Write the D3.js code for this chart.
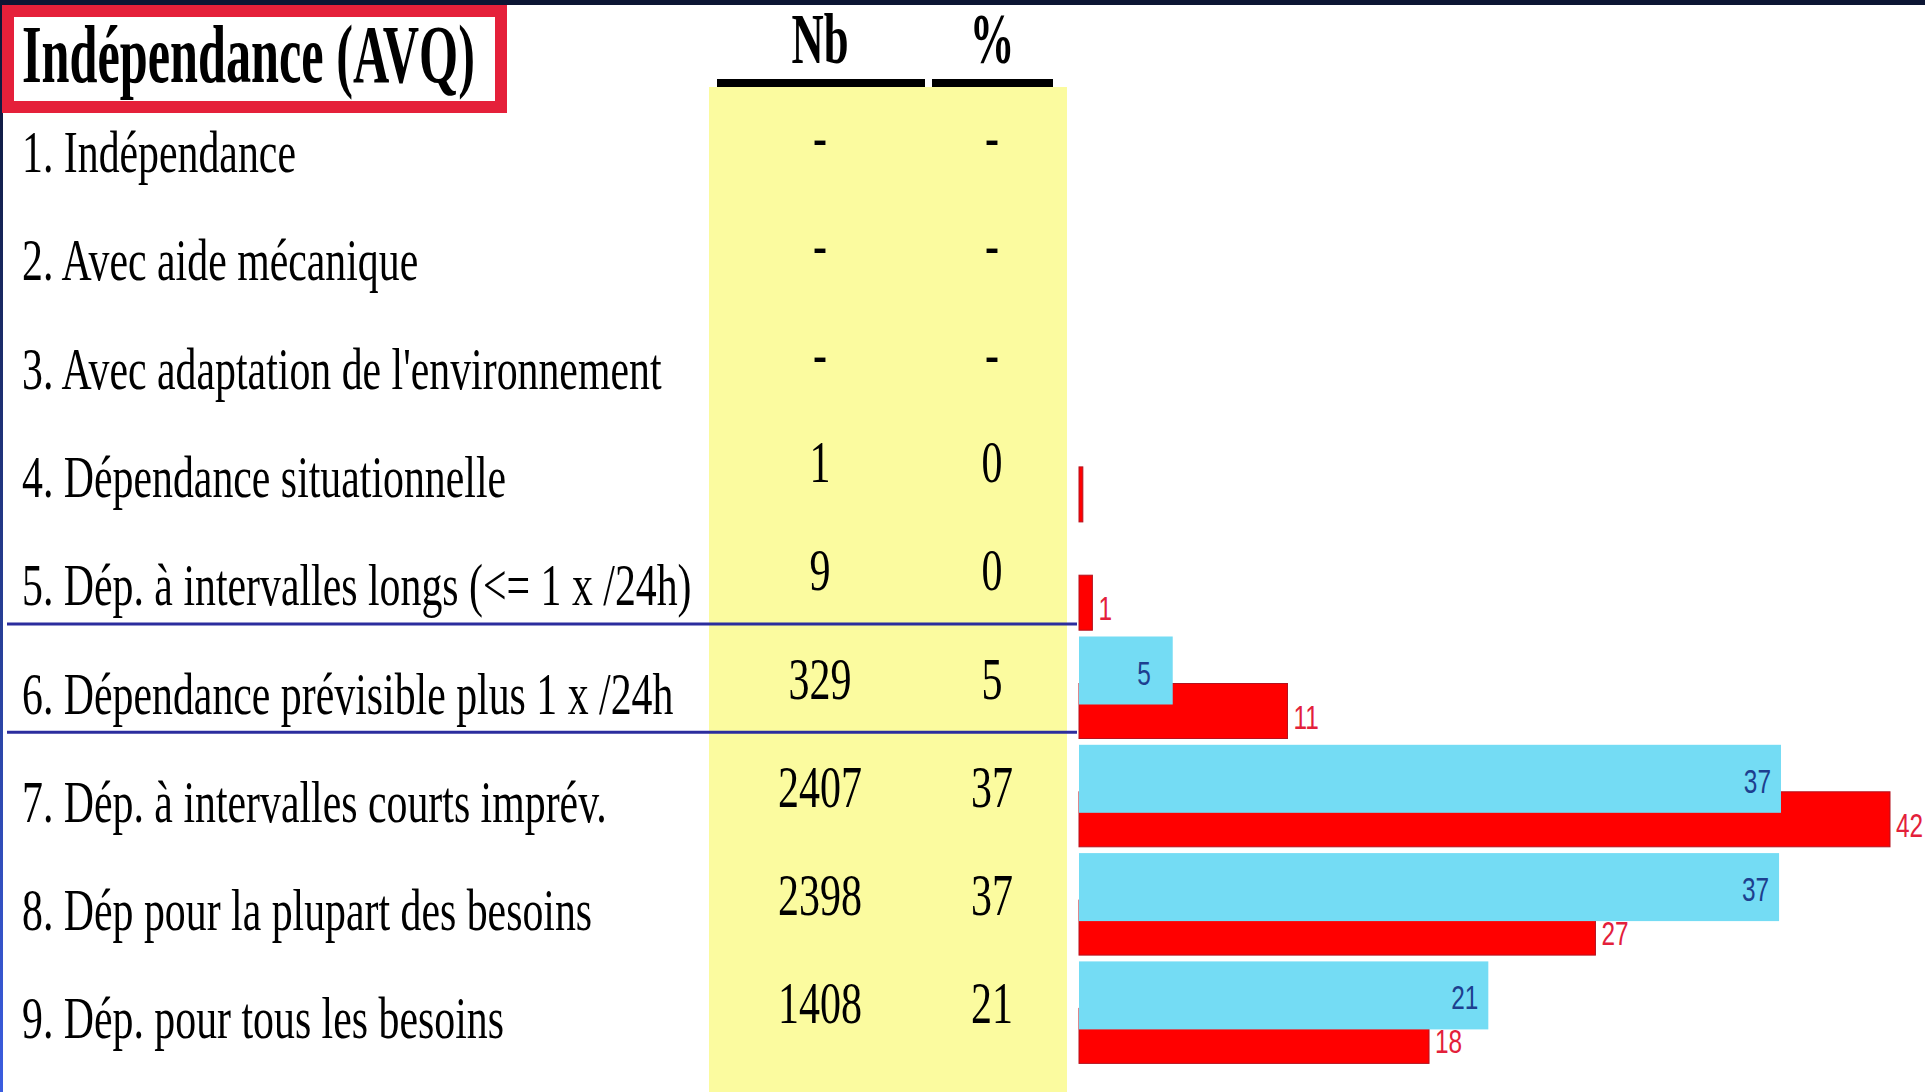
<!DOCTYPE html>
<html>
<head>
<meta charset="utf-8">
<script src="https://cdn.jsdelivr.net/npm/d3@7"></script>
<style>
  html, body { margin: 0; padding: 0; background: #ffffff; overflow: hidden; }
  svg { display: block; }
</style>
</head>
<body>
<script>
// ---------------- DATA ----------------
const title = "Indépendance (AVQ)";
const columnHeaders = ["Nb", "%"];
const categories = [
  "1. Indépendance",
  "2. Avec aide mécanique",
  "3. Avec adaptation de l'environnement",
  "4. Dépendance situationnelle",
  "5. Dép. à intervalles longs (<= 1 x /24h)",
  "6. Dépendance prévisible plus 1 x /24h",
  "7. Dép. à intervalles courts imprév.",
  "8. Dép pour la plupart des besoins",
  "9. Dép. pour tous les besoins"
];
const nbValues  = ["-", "-", "-", "1", "9", "329", "2407", "2398", "1408"];
const pctValues = ["-", "-", "-", "0", "0", "5", "37", "37", "21"];
// bar series (percent)
const blueValues = [0, 0, 0, 0, 0, 4.9, 36.7, 36.6, 21.4];
const redValues  = [0, 0, 0, 0.2, 0.7, 10.9, 42.4, 27.0, 18.3];
// rows that get a separator line above them
const separatorRows = [categories[5], categories[6]];

// ---------------- LAYOUT ----------------
const W = 1925, H = 1092;
const serif = "'Liberation Serif', 'Times New Roman', serif";
const sans = "'Liberation Sans', Arial, sans-serif";
const C = {
  navy: "#0c1533",
  frame: "#e5203a",
  yellow: "#fbfb9f",
  blue: "#74dcf4",
  red: "#ff0000",
  redStroke: "#b3121f",
  blueText: "#1d3f8f",
  redText: "#e3203a",
  sep: "#2b2d9e"
};

const rows = categories.map((c, i) => ({
  cat: c, nb: nbValues[i], pct: pctValues[i], blue: blueValues[i], red: redValues[i]
}));

const svg = d3.select("body").append("svg").attr("width", W).attr("height", H);

const defs = svg.append("defs");
const lg = defs.append("linearGradient").attr("id", "leftEdge")
  .attr("x1", 0).attr("y1", 0).attr("x2", 0).attr("y2", 1);
lg.append("stop").attr("offset", "0%").attr("stop-color", "#0c1533");
lg.append("stop").attr("offset", "100%").attr("stop-color", "#3b5de0");

// Scales
const y = d3.scaleBand().domain(categories).range([95, 95 + 9 * 108.3]).padding(0);
const x = d3.scaleLinear().domain([0, 42.4]).range([1079, 1890]);
const colX = d3.scaleOrdinal().domain(columnHeaders).range([820, 992]);
const colSpan = d3.scaleOrdinal().domain(columnHeaders).range([[717, 925], [932, 1053]]);

const blueH = 68, redOff = 47, redH = 55;

// yellow column background
svg.append("rect").attr("x", 709).attr("y", 87).attr("width", 358).attr("height", H - 87)
  .attr("fill", C.yellow);

// top band and left edge
svg.append("rect").attr("x", 0).attr("y", 0).attr("width", W).attr("height", 5).attr("fill", C.navy);
svg.append("rect").attr("x", 0).attr("y", 0).attr("width", 3).attr("height", H).attr("fill", "url(#leftEdge)");

// helper for condensed text
function ctext(sel, tx, ty, sx, anchor) {
  return sel.append("text")
    .attr("transform", `translate(${tx},${ty}) scale(${sx},1)`)
    .attr("x", 0).attr("y", 0)
    .attr("text-anchor", anchor || "start");
}

// title frame
svg.append("rect").attr("x", 8).attr("y", 11).attr("width", 493).attr("height", 96)
  .attr("fill", "#ffffff").attr("stroke", C.frame).attr("stroke-width", 12);
ctext(svg, 22, 82, 0.613).text(title)
  .attr("font-family", serif).attr("font-weight", "bold").attr("font-size", 82).attr("fill", "#000");

// column headers
const hdr = svg.append("g");
columnHeaders.forEach(h => {
  ctext(hdr, colX(h), 63, 0.62, "middle").text(h)
    .attr("font-family", serif).attr("font-weight", "bold").attr("font-size", 72).attr("fill", "#000");
  const s = colSpan(h);
  hdr.append("rect").attr("x", s[0]).attr("y", 79).attr("width", s[1] - s[0]).attr("height", 8).attr("fill", "#000");
});

// row labels
const lab = svg.append("g");
rows.forEach(r => {
  ctext(lab, 22, y(r.cat) + 77, 0.697).text(r.cat)
    .attr("font-family", serif).attr("font-size", 60).attr("fill", "#000");
  ctext(lab, colX("Nb"), y(r.cat) + 62, 0.7, "middle").text(r.nb)
    .attr("font-family", serif).attr("font-size", 60).attr("fill", "#000");
  ctext(lab, colX("%"), y(r.cat) + 62, 0.7, "middle").text(r.pct)
    .attr("font-family", serif).attr("font-size", 60).attr("fill", "#000");
});

// separator lines
svg.append("g").selectAll("line").data(separatorRows).join("line")
  .attr("x1", 7).attr("x2", 1077)
  .attr("y1", d => y(d) - 12.5).attr("y2", d => y(d) - 12.5)
  .attr("stroke", C.sep).attr("stroke-width", 3);

// red bars
const redRows = rows.filter(r => r.red > 0);
svg.append("g").selectAll("rect").data(redRows).join("rect")
  .attr("x", x(0)).attr("y", d => y(d.cat) + redOff)
  .attr("width", d => x(d.red) - x(0)).attr("height", redH)
  .attr("fill", C.red).attr("stroke", C.redStroke).attr("stroke-width", 1);

// red labels
const rl = svg.append("g");
redRows.filter(r => r.red >= 0.5).forEach(r => {
  ctext(rl, x(r.red) + 6, y(r.cat) + redOff + 45, 0.74).text(d3.format(".0f")(r.red))
    .attr("font-family", sans).attr("font-size", 33).attr("fill", C.redText);
});

// blue bars (drawn over red)
const blueRows = rows.filter(r => r.blue > 0);
svg.append("g").selectAll("rect").data(blueRows).join("rect")
  .attr("x", x(0)).attr("y", d => y(d.cat))
  .attr("width", d => x(d.blue) - x(0)).attr("height", blueH)
  .attr("fill", C.blue);

// blue labels
const bl = svg.append("g");
blueRows.forEach(r => {
  const pad = r.blue < 10 ? 22 : 10;
  ctext(bl, x(r.blue) - pad, y(r.cat) + 48, 0.74, "end").text(d3.format(".0f")(r.blue))
    .attr("font-family", sans).attr("font-size", 33).attr("fill", C.blueText);
});
</script>
</body>
</html>
